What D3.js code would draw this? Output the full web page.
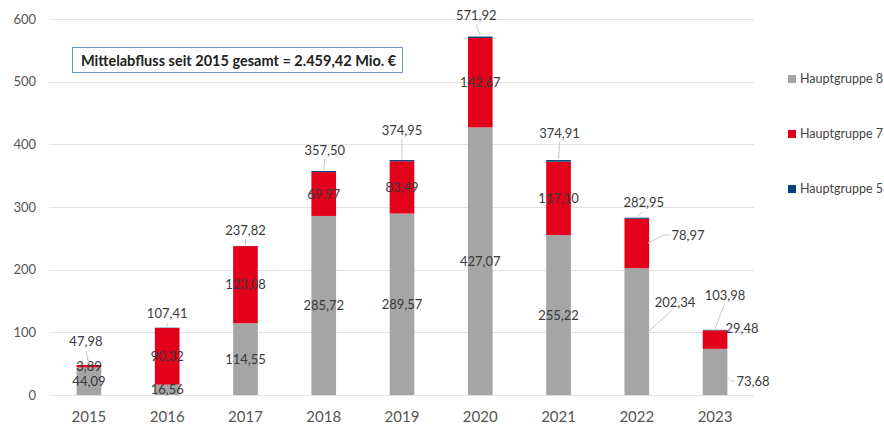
<!DOCTYPE html>
<html>
<head>
<meta charset="utf-8">
<script src="https://cdn.jsdelivr.net/npm/d3@7"></script>
<style>
  body { margin: 0; background: #fff; }
  svg { display: block; font-family: "Lato", "Noto Sans", sans-serif; }
</style>
</head>
<body>
<svg id="chart" width="884" height="424"></svg>
<script>
// Chart data
const years = ["2015", "2016", "2017", "2018", "2019", "2020", "2021", "2022", "2023"];
const hg8 = [44.09, 16.56, 114.55, 285.72, 289.57, 427.07, 255.22, 202.34, 73.68];
const hg7 = [3.89, 90.32, 123.08, 69.97, 83.49, 142.67, 117.10, 78.97, 29.48];
const hg5 = [0.00, 0.53, 0.19, 1.81, 1.89, 2.18, 2.59, 1.64, 0.82];
const totals = [47.98, 107.41, 237.82, 357.50, 374.95, 571.92, 374.91, 282.95, 103.98];
const yTicks = [0, 100, 200, 300, 400, 500, 600];
const seriesNames = ["Hauptgruppe 8", "Hauptgruppe 7", "Hauptgruppe 5"];
const boxText = "Mittelabfluss seit 2015 gesamt = 2.459,42 Mio. €";

const COLORS = { hg8: "#a5a5a5", hg7: "#e2001a", hg5: "#003f7d" };
const TEXT = "#3a3a3a";

const svg = d3.select("#chart");

// Scales
const x = d3.scaleBand().domain(years).range([50, 754]).paddingInner(0.685).paddingOuter(0.34);
const y = d3.scaleLinear().domain([0, 600]).range([395, 19]);

const fmt = v => d3.format(".2f")(v).replace(".", ",");

// Gridlines
svg.append("g")
  .selectAll("line")
  .data(yTicks)
  .join("line")
  .attr("x1", 49)
  .attr("x2", 754)
  .attr("y1", d => Math.round(y(d)) + 0.5)
  .attr("y2", d => Math.round(y(d)) + 0.5)
  .style("stroke", "#e3e3e3")
  .style("stroke-width", 1);

// Y axis labels
svg.append("g")
  .selectAll("text")
  .data(yTicks)
  .join("text")
  .attr("x", 36)
  .attr("y", d => y(d))
  .attr("dy", "0.35em")
  .attr("text-anchor", "end")
  .style("font-size", "13px")
  .style("fill", "#555")
  .text(d => d);

// X axis labels
svg.append("g")
  .selectAll("text")
  .data(years)
  .join("text")
  .attr("x", d => x(d) + x.bandwidth() / 2)
  .attr("y", 417)
  .attr("dy", "0.35em")
  .attr("text-anchor", "middle")
  .style("font-size", "15px")
  .style("fill", "#555")
  .text(d => d);

// Stacked bars
const rows = years.map((yr, i) => ({ year: yr, hg8: hg8[i], hg7: hg7[i], hg5: hg5[i] }));
const stack = d3.stack().keys(["hg8", "hg7", "hg5"])(rows);

svg.append("g")
  .selectAll("g")
  .data(stack)
  .join("g")
  .style("fill", d => COLORS[d.key])
  .selectAll("rect")
  .data(d => d)
  .join("rect")
  .attr("x", d => x(d.data.year))
  .attr("width", x.bandwidth())
  .attr("y", d => y(d[1]))
  .attr("height", d => Math.max(0, y(d[0]) - y(d[1])));

const labels = svg.append("g")
  .style("font-size", "13px")
  .style("fill", TEXT);

// Segment labels (HG8, HG7), callouts for the last two years
const outside = {
  "2022": { hg8: { lx: 675, ly: 302, from: [648, 332], to: [672, 310] },
            hg7: { lx: 688, ly: 235, from: [648, 243], to: [664, 235], end: [671, 235] } },
  "2023": { hg8: { lx: 753, ly: 381, from: [727, 377], to: [731, 381], end: [735, 381] },
            hg7: { lx: 742, ly: 328 } }
};

["hg8", "hg7"].forEach((key, k) => {
  stack[k].forEach((d, i) => {
    const yr = years[i];
    const cx = x(yr) + x.bandwidth() / 2;
    const cy = (y(d[0]) + y(d[1])) / 2;
    const o = outside[yr] && outside[yr][key];
    if (o) {
      if (o.from) {
        const pts = [o.from, o.to].concat(o.end ? [o.end] : []);
        labels.append("path")
          .attr("d", d3.line()(pts))
          .style("fill", "none")
          .style("stroke", "#c8c8c8")
          .style("stroke-width", 1);
      }
      labels.append("text")
        .attr("x", o.lx)
        .attr("y", o.ly)
        .attr("dy", "0.35em")
        .attr("text-anchor", "middle")
        .text(fmt(key === "hg8" ? hg8[i] : hg7[i]));
    } else {
      labels.append("text")
        .attr("x", cx)
        .attr("y", cy)
        .attr("dy", "0.35em")
        .attr("text-anchor", "middle")
        .text(fmt(key === "hg8" ? hg8[i] : hg7[i]));
    }
  });
});

// Total labels with leader lines
const totalOffset = {
  "2015": [-3, -23], "2016": [0, -14], "2017": [0, -16], "2018": [1, -21], "2019": [0, -30],
  "2020": [-4, -21], "2021": [1, -27], "2022": [7, -15], "2023": [10, -34]
};

years.forEach((yr, i) => {
  const cx = x(yr) + x.bandwidth() / 2;
  const top = y(totals[i]);
  const [dx, dy] = totalOffset[yr];
  const lx = cx + dx;
  const ly = top + dy;
  labels.append("line")
    .attr("x1", lx + (dx > 5 ? -1 : 0))
    .attr("y1", ly + 9)
    .attr("x2", cx)
    .attr("y2", top - 1)
    .style("stroke", "#c8c8c8")
    .style("stroke-width", 1);
  labels.append("text")
    .attr("x", lx)
    .attr("y", ly)
    .attr("dy", "0.35em")
    .attr("text-anchor", "middle")
    .text(fmt(totals[i]));
});

// Summary box
svg.append("rect")
  .attr("x", 72.5)
  .attr("y", 47.5)
  .attr("width", 330)
  .attr("height", 25)
  .style("fill", "#fff")
  .style("stroke", "#6d93c8")
  .style("stroke-width", 1);

svg.append("text")
  .attr("x", 81)
  .attr("y", 60.5)
  .attr("dy", "0.35em")
  .style("font-size", "14.5px")
  .style("font-weight", "bold")
  .style("fill", "#222")
  .text(boxText);

// Legend
const legendColors = [COLORS.hg8, COLORS.hg7, COLORS.hg5];
const legend = svg.append("g")
  .selectAll("g")
  .data(seriesNames)
  .join("g")
  .attr("transform", (d, i) => `translate(788, ${79 + i * 55})`);

legend.append("rect")
  .attr("x", 0)
  .attr("y", -4)
  .attr("width", 8)
  .attr("height", 8)
  .style("fill", (d, i) => legendColors[i]);

legend.append("text")
  .attr("x", 12)
  .attr("y", 0)
  .attr("dy", "0.35em")
  .style("font-size", "12.5px")
  .style("fill", "#444")
  .text(d => d);
</script>
</body>
</html>
